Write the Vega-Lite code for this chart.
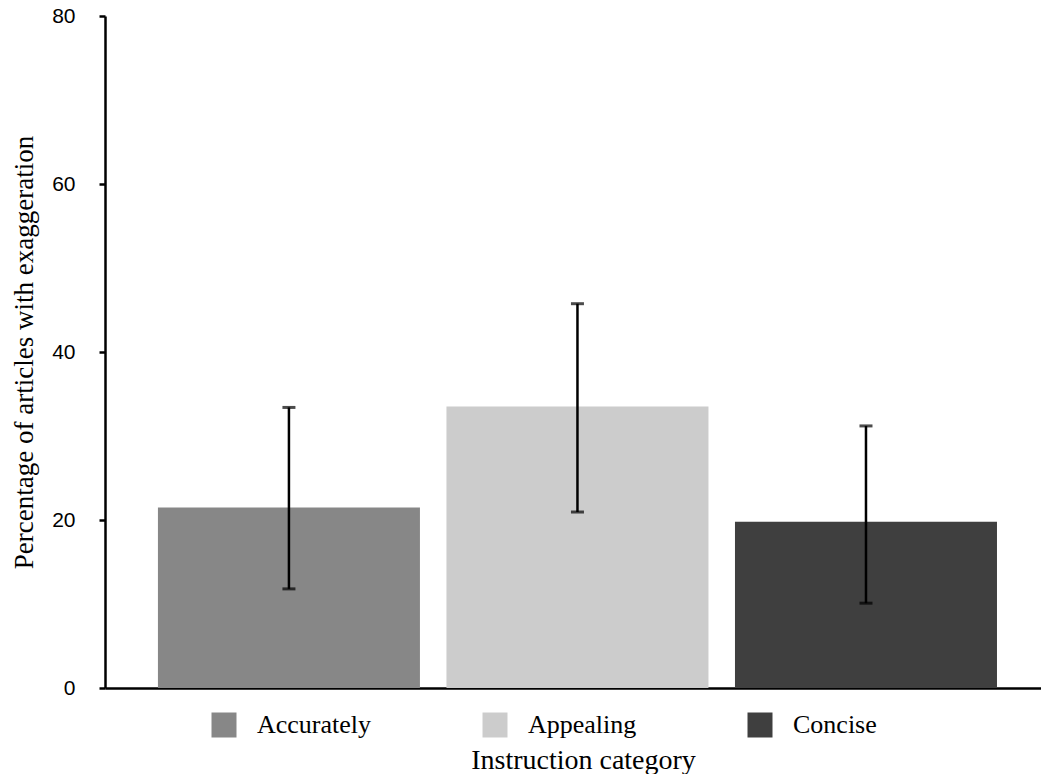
{
  "$schema": "https://vega.github.io/schema/vega-lite/v6.json",
  "autosize": {"type": "none"},
  "width": 936,
  "height": 672,
  "padding": {"left": 105, "top": 16, "right": 0, "bottom": 86},
  "background": "white",
  "config": {
    "view": {"stroke": null},
    "font": "Liberation Serif"
  },
  "data": {
    "values": [
      {"category": "Accurately", "pct": 21.5, "lo": 11.8, "hi": 33.4},
      {"category": "Appealing", "pct": 33.5, "lo": 20.95, "hi": 45.75},
      {"category": "Concise", "pct": 19.8, "lo": 10.1, "hi": 31.2}
    ]
  },
  "encoding": {
    "x": {
      "field": "category",
      "type": "nominal",
      "sort": ["Accurately", "Appealing", "Concise"],
      "scale": {"paddingInner": 0.0919, "paddingOuter": 0.168, "align": 0.546},
      "axis": {
        "title": "Instruction category",
        "titleFont": "Liberation Serif",
        "titleFontSize": 28,
        "titleFontWeight": "normal",
        "titleColor": "black",
        "titleX": 478,
        "titleY": 80,
        "titleAlign": "center",
        "titleBaseline": "alphabetic",
        "labels": false,
        "ticks": false,
        "domainColor": "black",
        "domainWidth": 2.5,
        "grid": false
      }
    }
  },
  "layer": [
    {
      "mark": {"type": "bar"},
      "encoding": {
        "y": {
          "field": "pct",
          "type": "quantitative",
          "scale": {"domain": [0, 80], "nice": false},
          "axis": {
            "values": [0, 20, 40, 60, 80],
            "title": "Percentage of articles with exaggeration",
            "titleFont": "Liberation Serif",
            "titleFontSize": 27,
            "titleFontWeight": "normal",
            "titleColor": "black",
            "titleX": -73,
            "titleY": 336,
            "titleAngle": -90,
            "titleAlign": "center",
            "titleBaseline": "alphabetic",
            "labelFont": "Liberation Sans",
            "labelFontSize": 21,
            "labelColor": "black",
            "labelPadding": 24,
            "tickSize": 6,
            "tickColor": "black",
            "tickWidth": 2.5,
            "domainColor": "black",
            "domainWidth": 2.5,
            "grid": false
          }
        },
        "color": {
          "field": "category",
          "type": "nominal",
          "scale": {"domain": ["Accurately", "Appealing", "Concise"], "range": ["#878787", "#cccccc", "#3f3f3f"]},
          "legend": {
            "title": null,
            "orient": "none",
            "direction": "horizontal",
            "legendX": 106,
            "legendY": 696,
            "padding": 0,
            "columnPadding": 110,
            "symbolType": "square",
            "symbolSize": 625,
            "symbolStrokeWidth": 0,
            "symbolOpacity": 1,
            "labelOffset": 20,
            "labelFont": "Liberation Serif",
            "labelFontSize": 26,
            "labelColor": "black",
            "labelLimit": 300
          }
        }
      }
    },
    {
      "mark": {"type": "rule", "color": "black", "strokeWidth": 2.5},
      "encoding": {
        "y": {"field": "lo", "type": "quantitative"},
        "y2": {"field": "hi"}
      }
    },
    {
      "mark": {"type": "tick", "color": "black", "thickness": 3, "size": 13, "orient": "horizontal"},
      "encoding": {
        "y": {"field": "lo", "type": "quantitative"}
      }
    },
    {
      "mark": {"type": "tick", "color": "black", "thickness": 3, "size": 13, "orient": "horizontal"},
      "encoding": {
        "y": {"field": "hi", "type": "quantitative"}
      }
    }
  ]
}
